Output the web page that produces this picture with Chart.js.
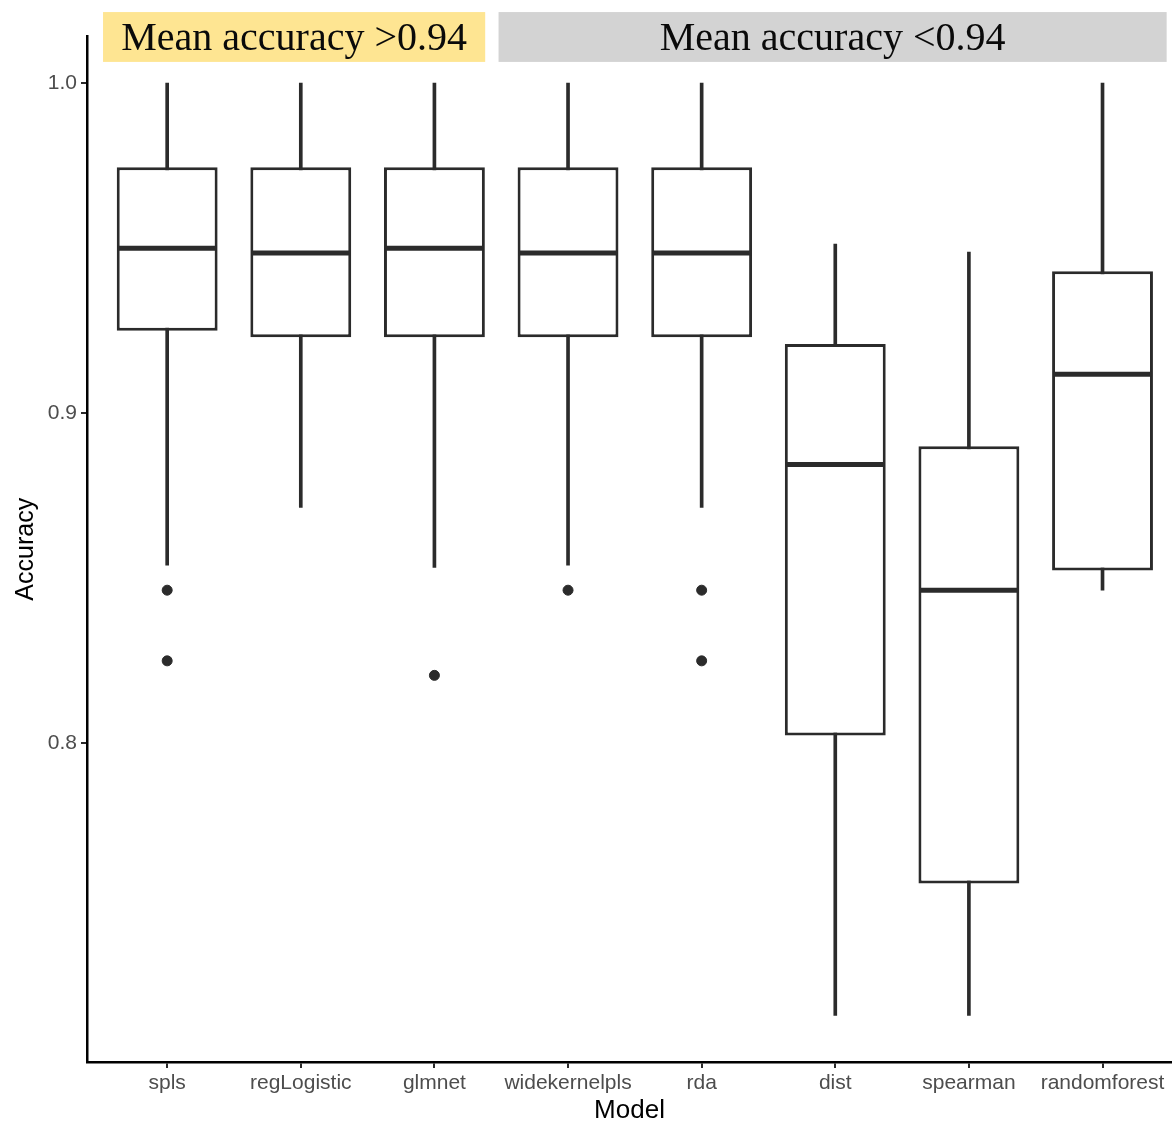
<!DOCTYPE html>
<html>
<head>
<meta charset="utf-8">
<title>Accuracy by model</title>
<script src="https://cdn.jsdelivr.net/npm/chart.js@4.4.1/dist/chart.umd.min.js"></script>
<style>
  html, body { margin: 0; padding: 0; background: #fff; overflow: hidden; }
  #wrap { width: 1172px; height: 1122px; }
</style>
</head>
<body>
<div id="wrap"><canvas id="box-chart" width="1172" height="1122"></canvas></div>
<script>
// ─── Data ────────────────────────────────────────────────────────────────────

const models = ["spls", "regLogistic", "glmnet", "widekernelpls", "rda", "dist", "spearman", "randomforest"];
const whiskerLow = [0.854, 0.8715, 0.8533, 0.854, 0.8715, 0.7176, 0.7176, 0.8464];
const q1 = [0.925, 0.923, 0.923, 0.923, 0.923, 0.8024, 0.7576, 0.8524];
const median = [0.950, 0.9485, 0.950, 0.9485, 0.9485, 0.8845, 0.8464, 0.9118];
const q3 = [0.9745, 0.9745, 0.9745, 0.9745, 0.9745, 0.921, 0.890, 0.943];
const whiskerHigh = [1.0, 1.0, 1.0, 1.0, 1.0, 0.9512, 0.9488, 1.0];
// outliers as [model index, value]
const outliers = [[0, 0.8464], [0, 0.825], [2, 0.8206], [3, 0.8464], [4, 0.8464], [4, 0.825]];
const yTicks = [0.8, 0.9, 1.0];
const stripLabels = ["Mean accuracy >0.94", "Mean accuracy <0.94"];

// ─── Style ───────────────────────────────────────────────────────────────────

const ink = "#2b2b2b";
const tickText = "#4d4d4d";
const sans = '"Liberation Sans", Arial, sans-serif';
const stripFill = ["#fee592", "#d3d3d3"];
// strip rectangles in data units (x from, x to), shared y band
const stripX = [[0.52, 3.38], [3.48, 8.48]];
const stripY = [1.0064, 1.0215];

const pos = (i) => i + 1;

const stripPlugin = {
  id: "strips",
  afterDraw(chart) {
    const { ctx, scales } = chart;
    const x = scales.x, y = scales.y;
    const top = y.getPixelForValue(stripY[1]);
    const bottom = y.getPixelForValue(stripY[0]);
    ctx.save();
    stripX.forEach(([a, b], i) => {
      const left = x.getPixelForValue(a);
      const right = x.getPixelForValue(b);
      ctx.fillStyle = stripFill[i];
      ctx.fillRect(left, top, right - left, bottom - top);
      ctx.fillStyle = "#0a0a0a";
      ctx.font = '40px "Liberation Serif", "DejaVu Serif", serif';
      ctx.textAlign = "center";
      ctx.textBaseline = "middle";
      ctx.fillText(stripLabels[i], (left + right) / 2, (top + bottom) / 2 + 3);
    });
    ctx.restore();
  },
};

const chart = new Chart(document.getElementById("box-chart").getContext("2d"), {
  type: "bar",
  data: {
    datasets: [
      {
        type: "scatter",
        label: "outliers",
        data: outliers.map(([i, v]) => ({ x: pos(i), y: v })),
        backgroundColor: ink,
        borderColor: ink,
        pointRadius: 5,
        order: 1,
      },
      {
        type: "line",
        label: "median",
        data: median.map((v, i) => ({ x: pos(i), y: v })),
        showLine: false,
        pointStyle: "line",
        pointRadius: 49.5,
        pointBorderWidth: 5,
        borderColor: ink,
        backgroundColor: ink,
        order: 2,
      },
      {
        label: "box",
        data: q1.map((v, i) => ({ x: pos(i), y: [v, q3[i]] })),
        backgroundColor: "#ffffff",
        borderColor: ink,
        borderWidth: 3,
        borderSkipped: false,
        grouped: false,
        categoryPercentage: 1,
        barPercentage: 0.755,
        order: 3,
      },
      {
        label: "whisker",
        data: whiskerLow.map((v, i) => ({ x: pos(i), y: [v, whiskerHigh[i]] })),
        backgroundColor: ink,
        borderWidth: 0,
        grouped: false,
        barThickness: 3,
        order: 4,
      },
    ],
  },
  options: {
    responsive: false,
    animation: false,
    layout: { autoPadding: false, padding: { top: 36.5, right: 0, bottom: 0, left: 0 } },
    plugins: {
      legend: { display: false },
      tooltip: { enabled: false },
    },
    scales: {
      x: {
        type: "linear",
        min: 0.4,
        max: 8.52,
        offset: false,
        afterBuildTicks: (axis) => {
          axis.ticks = models.map((_, i) => ({ value: pos(i) }));
        },
        afterFit: (axis) => {
          axis.height = 60;
          axis.paddingLeft = 0;
          axis.paddingRight = 0;
        },
        border: { display: true, color: "#000", width: 2.5 },
        grid: { offset: false, drawOnChartArea: false, drawTicks: true, tickLength: 6, color: ink, lineWidth: 2 },
        ticks: {
          autoSkip: false,
          maxRotation: 0,
          padding: 3,
          color: tickText,
          font: { family: sans, size: 21 },
          callback: (v) => models[v - 1] ?? "",
        },
        title: {
          display: true,
          text: "Model",
          color: "#000",
          padding: { top: 0, bottom: 0 },
          font: { family: sans, size: 26, lineHeight: 0.85 },
        },
      },
      y: {
        min: 0.7035,
        max: 1.0141,
        afterBuildTicks: (axis) => {
          axis.ticks = yTicks.map((v) => ({ value: v }));
        },
        afterFit: (axis) => {
          axis.width = 87;
          axis.paddingTop = 0;
          axis.paddingBottom = 0;
        },
        border: { display: true, color: "#000", width: 2.5 },
        grid: { drawOnChartArea: false, drawTicks: true, tickLength: 6, color: ink, lineWidth: 2 },
        ticks: {
          padding: 4,
          color: tickText,
          font: { family: sans, size: 21 },
          callback: (v) => v.toFixed(1),
        },
        title: {
          display: true,
          text: "Accuracy",
          color: "#000",
          padding: { top: 14, bottom: 0 },
          font: { family: sans, size: 25, lineHeight: 1 },
        },
      },
    },
  },
  plugins: [stripPlugin],
});
</script>
</body>
</html>
